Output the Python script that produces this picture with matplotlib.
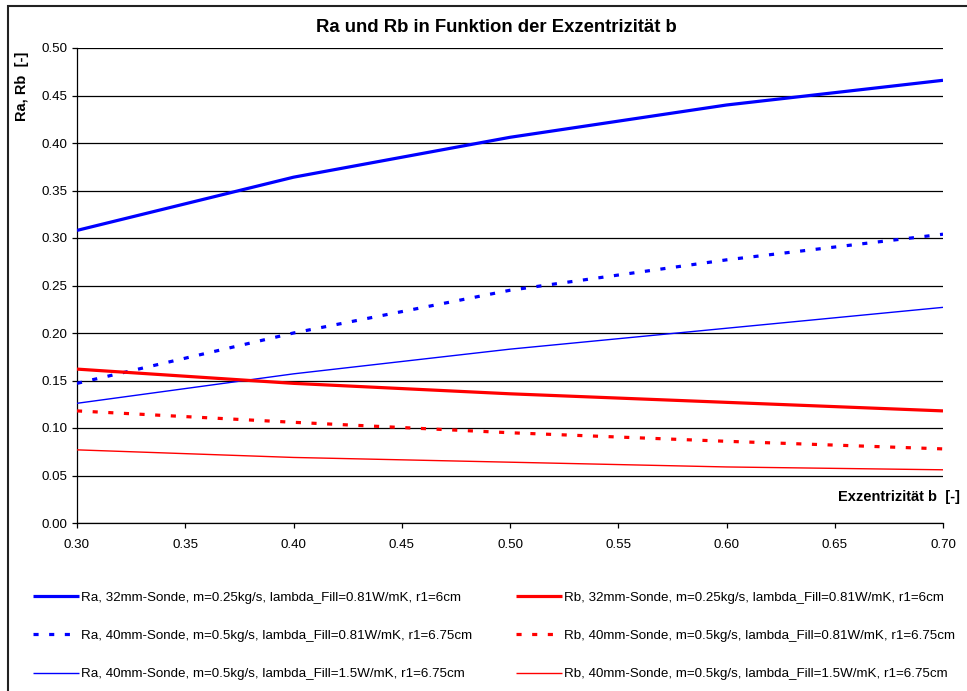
import matplotlib
matplotlib.use("Agg")
import matplotlib.pyplot as plt
from matplotlib.patches import Rectangle

plt.rcParams['font.family'] = ['Liberation Sans', 'DejaVu Sans']

b_vals = [0.30, 0.40, 0.50, 0.60, 0.70]
ra_32 = [0.308, 0.364, 0.406, 0.440, 0.466]
ra_40_081 = [0.147, 0.200, 0.245, 0.277, 0.304]
ra_40_15 = [0.126, 0.157, 0.183, 0.205, 0.227]
rb_32 = [0.162, 0.147, 0.136, 0.127, 0.118]
rb_40_081 = [0.118, 0.106, 0.095, 0.086, 0.078]
rb_40_15 = [0.077, 0.069, 0.064, 0.059, 0.056]

labels = [
    "Ra, 32mm-Sonde, m=0.25kg/s, lambda_Fill=0.81W/mK, r1=6cm",
    "Ra, 40mm-Sonde, m=0.5kg/s, lambda_Fill=0.81W/mK, r1=6.75cm",
    "Ra, 40mm-Sonde, m=0.5kg/s, lambda_Fill=1.5W/mK, r1=6.75cm",
    "Rb, 32mm-Sonde, m=0.25kg/s, lambda_Fill=0.81W/mK, r1=6cm",
    "Rb, 40mm-Sonde, m=0.5kg/s, lambda_Fill=0.81W/mK, r1=6.75cm",
    "Rb, 40mm-Sonde, m=0.5kg/s, lambda_Fill=1.5W/mK, r1=6.75cm",
]
x_ticks = [0.30, 0.35, 0.40, 0.45, 0.50, 0.55, 0.60, 0.65, 0.70]
y_ticks = [0.00, 0.05, 0.10, 0.15, 0.20, 0.25, 0.30, 0.35, 0.40, 0.45, 0.50]

W, H = 967, 691
fig = plt.figure(figsize=(W / 100, H / 100), dpi=100)
ax = fig.add_axes([77 / W, 1 - 523 / H, (943 - 77) / W, (523 - 48) / H])

fs = 9.6
dot = (0, (1.6, 3.3))
series = [
    (ra_32, '#0000FF', 2.3, '-'),
    (ra_40_081, '#0000FF', 2.3, dot),
    (ra_40_15, '#0000FF', 1.0, '-'),
    (rb_32, '#FF0000', 2.3, '-'),
    (rb_40_081, '#FF0000', 2.3, dot),
    (rb_40_15, '#FF0000', 1.0, '-'),
]
handles = []
for (vals, col, lw, ls), lab in zip(series, labels):
    h, = ax.plot(b_vals, vals, color=col, lw=lw, linestyle=ls, label=lab, zorder=3,
                 solid_capstyle='butt', dash_capstyle='butt')
    handles.append(h)

ax.set_xlim(0.30, 0.70)
ax.set_ylim(0.0, 0.50)
ax.set_xticks(x_ticks)
ax.set_xticklabels([f"{v:.2f}" for v in x_ticks], fontsize=fs)
ax.set_yticks(y_ticks)
ax.set_yticklabels([f"{v:.2f}" for v in y_ticks], fontsize=fs)
ax.yaxis.grid(True, color='black', lw=0.9, zorder=1)
ax.set_axisbelow(True)
for s in ['top', 'right']:
    ax.spines[s].set_visible(False)
for s in ['left', 'bottom']:
    ax.spines[s].set_color('black')
    ax.spines[s].set_linewidth(0.9)
ax.tick_params(axis='both', direction='out', length=3.5, width=0.9, colors='black')
ax.tick_params(axis='y', pad=3.5)
ax.tick_params(axis='x', pad=8)

fig.text(496 / W, 1 - 27.5 / H, "Ra und Rb in Funktion der Exzentrizität b",
         fontsize=13.3, fontweight='bold', ha='center', va='center')
fig.text(22 / W, 1 - 52 / H, "Ra, Rb  [-]", fontsize=10.5, fontweight='bold',
         rotation=90, ha='center', va='top')
fig.text(960 / W, 1 - 497 / H, "Exzentrizität b  [-]", fontsize=10.5,
         fontweight='bold', ha='right', va='center')

leg = fig.legend(handles=handles, labels=labels, ncol=2, frameon=False,
                 loc='upper left', bbox_to_anchor=(28 / W, 1 - 586 / H),
                 fontsize=fs, handlelength=3.4, handletextpad=0.2,
                 columnspacing=3.3, labelspacing=1.95, borderaxespad=0)

fig.add_artist(Rectangle((8 / W, -0.2), 1.5, 1.2 - 6 / H, transform=fig.transFigure,
                         fill=False, edgecolor='#222222', lw=1.5))

fig.savefig("out.png", dpi=100)
